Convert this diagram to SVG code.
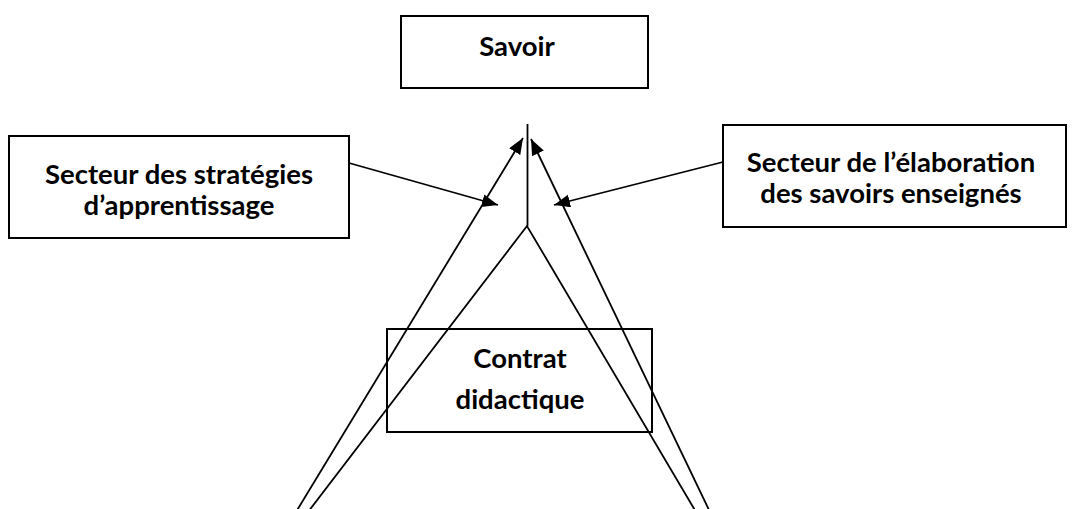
<svg xmlns="http://www.w3.org/2000/svg" width="1076" height="509" viewBox="0 0 1076 509">
<style>
.box{fill:#fff;stroke:#000;stroke-width:2}
.t{font-family:Lato,"Open Sans","Liberation Sans",sans-serif;font-weight:bold;font-size:27.5px;fill:#000;text-anchor:middle}
.c{fill:none;stroke:#000;stroke-width:1.8}
</style>
<defs>
<marker id="ah" markerUnits="userSpaceOnUse" markerWidth="18" markerHeight="14" refX="16" refY="6.5" orient="auto">
<path d="M0,0 L16,6.5 L0,13 z" fill="#000"/>
</marker>
</defs>
<rect width="1076" height="509" fill="#fff"/>
<g id="savoir">
<rect class="box" x="401" y="16" width="247" height="72"/>
<text class="t" x="517" y="56">Savoir</text>
</g>
<g id="strategies">
<rect class="box" x="9" y="136" width="340" height="102"/>
<text class="t" x="179" y="184">Secteur des stratégies</text>
<text class="t" x="179" y="215">d’apprentissage</text>
</g>
<g id="elaboration">
<rect class="box" x="723" y="125" width="343" height="102"/>
<text class="t" x="891" y="172">Secteur de l’élaboration</text>
<text class="t" x="891" y="203">des savoirs enseignés</text>
</g>
<g id="contrat">
<rect class="box" x="387" y="329" width="265" height="103"/>
<text class="t" x="520" y="368">Contrat</text>
<text class="t" x="520" y="409">didactique</text>
</g>
<g id="connectors">
<line class="c" x1="527.5" y1="124" x2="527.5" y2="226"/>
<line class="c" x1="296" y1="512" x2="523" y2="138" marker-end="url(#ah)"/>
<polyline class="c" points="308,512 527,226 696,512"/>
<line class="c" x1="710" y1="512" x2="531" y2="139" marker-end="url(#ah)"/>
<line class="c" x1="349" y1="163" x2="498" y2="205" marker-end="url(#ah)"/>
<line class="c" x1="723" y1="162" x2="554" y2="205" marker-end="url(#ah)"/>
</g>
</svg>
